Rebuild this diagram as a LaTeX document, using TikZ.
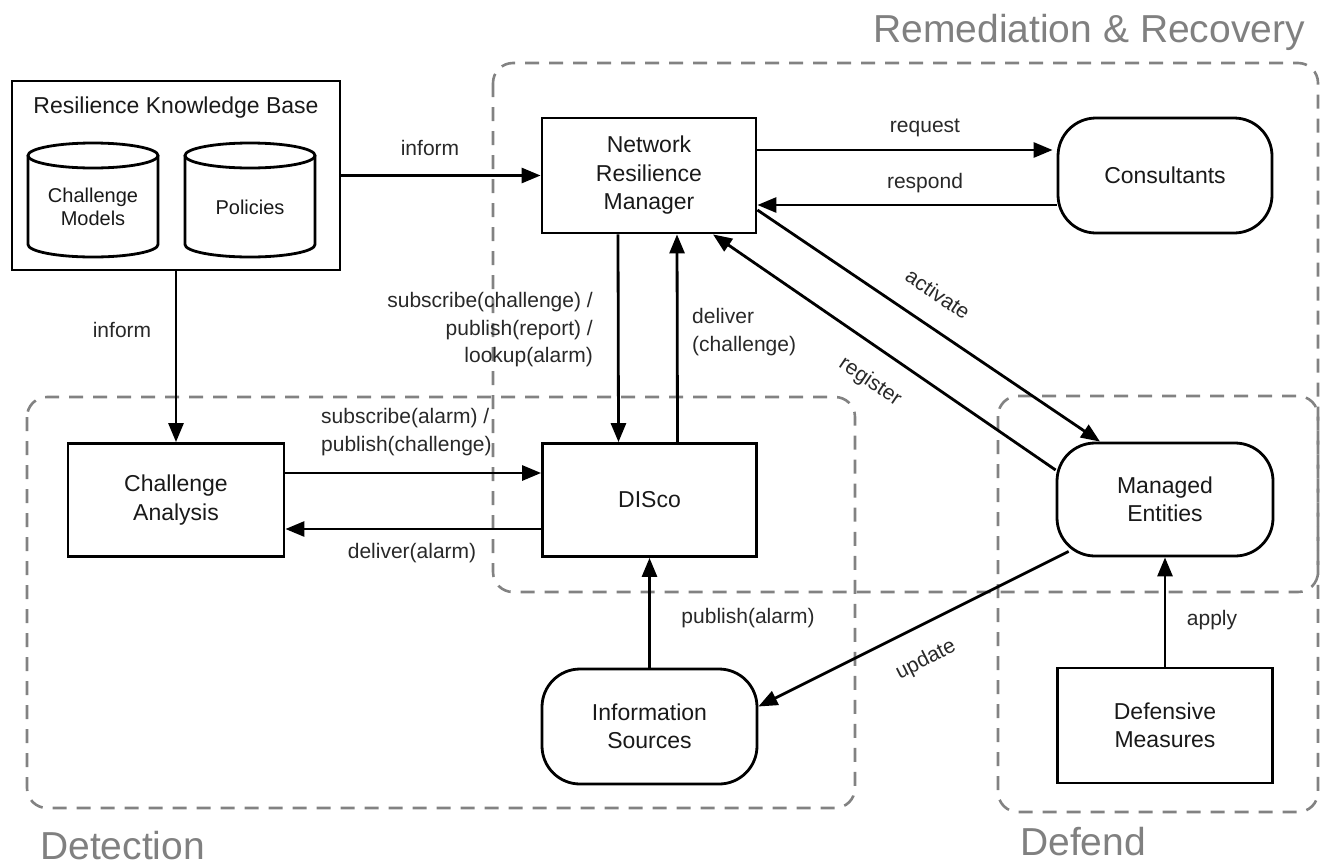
\documentclass[tikz,border=0pt]{standalone}
\usepackage{fontspec}
\setmainfont{Liberation Sans}
\usetikzlibrary{arrows.meta}

\definecolor{inkc}{RGB}{25,25,25}
\definecolor{labelc}{RGB}{40,40,40}
\definecolor{zonec}{RGB}{130,130,130}
\definecolor{zonetextc}{RGB}{128,128,128}

\begin{document}
\begin{tikzpicture}[x=1pt,y=-1pt,
  wire/.style={line width=2.8pt, draw=black},
  arr/.style={wire, -{Triangle[length=19pt,width=15pt]}},
  box/.style={draw=black, line width=2.8pt, rectangle, align=center, inner sep=0pt,
    text=inkc, font=\fontsize{23}{28.5}\selectfont},
  rbox/.style={box, rounded corners=38pt},
  zone/.style={draw=zonec, line width=2.6pt, dash pattern=on 14pt off 10pt, rounded corners=20pt},
  zonelabel/.style={inner sep=0pt, text=zonetextc, font=\fontsize{39}{44}\selectfont},
  lbl/.style={inner sep=0pt, align=center, text=labelc, font=\fontsize{21}{27.5}\selectfont},
  dblabel/.style={inner sep=0pt, align=center, text=inkc, font=\fontsize{20}{22.5}\selectfont}
]
\useasboundingbox (0,0) rectangle (1321,865);

% functional zones
\draw[zone] (493,63) rectangle (1318,592);
\draw[zone] (27,397) rectangle (855,808);
\draw[zone] (998,396) rectangle (1318,812);

\node[zonelabel, anchor=base east] (remlabel) at (1305,42) {Remediation \& Recovery};
\node[zonelabel, anchor=base west] (detlabel) at (40,859) {Detection};
\node[zonelabel, anchor=base west] (deflabel) at (1020,855) {Defend};

% knowledge base with its two stores
\node[box, minimum width=328, minimum height=189] (rkb) at (176,175.5) {};
\node[inner sep=0pt, text=inkc, font=\fontsize{23}{28.5}\selectfont] (rkbtitle) at (176,108) {Resilience Knowledge Base};

\draw[wire] (28,155.5) -- (28,244.5) arc[start angle=180, end angle=360, x radius=65pt, y radius=12.5pt] -- (158,155.5);
\draw[wire] (93,155.5) ellipse[x radius=65pt, y radius=12.5pt];
\node[dblabel] (models) at (93,207) {Challenge\\Models};

\draw[wire] (185,155.5) -- (185,244.5) arc[start angle=180, end angle=360, x radius=65pt, y radius=12.5pt] -- (315,155.5);
\draw[wire] (250,155.5) ellipse[x radius=65pt, y radius=12.5pt];
\node[dblabel] (policies) at (250,207) {Policies};

% components
\node[box, minimum width=214, minimum height=115] (nrm) at (649,175.5) {Network\\Resilience\\Manager};
\node[rbox, minimum width=214, minimum height=115] (cons) at (1165,175.5) {Consultants};
\node[box, minimum width=216, minimum height=113] (ca) at (176,500) {Challenge\\Analysis};
\node[box, minimum width=214, minimum height=113] (disco) at (649.5,500) {DISco};
\node[rbox, minimum width=216, minimum height=113] (me) at (1165,499.5) {Managed\\Entities};
\node[rbox, minimum width=215, minimum height=115] (is) at (649.5,726.5) {Information\\Sources};
\node[box, minimum width=215, minimum height=115] (dm) at (1165,725.5) {Defensive\\Measures};

% interactions
\draw[arr] (rkb.east) -- (nrm.west);
\node[lbl] (l1) at (430,148) {inform};

\draw[arr] (rkb.south) -- (ca.north);
\node[lbl] (l2) at (122,330) {inform};

\draw[arr] ([xshift=-31pt]nrm.south) -- ([xshift=-31pt]disco.north);
\node[lbl, align=right, anchor=east] (l3) at (593,330) {subscribe(challenge) /\\publish(report) /\\lookup(alarm)};

\draw[arr] ([xshift=28pt]disco.north) -- ([xshift=28pt]nrm.south);
\node[lbl, align=left, anchor=west] (l4) at (692,332) {deliver\\(challenge)};

\draw[arr] ([yshift=25.5pt]nrm.east) -- ([yshift=25.5pt,xshift=-4pt]cons.west);
\node[lbl] (l5) at (925,128) {request};

\draw[arr] ([yshift=-29.5pt]cons.west) -- ([yshift=-29.5pt]nrm.east);
\node[lbl] (l6) at (925,183) {respond};

\draw[arr] ([yshift=-34.5pt]nrm.east) -- ([xshift=-65pt]me.north);
\node[lbl, rotate=-34] (l7) at (938,294) {activate};

\draw[arr] ([yshift=29.5pt]me.west) -- ([xshift=64pt]nrm.south);
\node[lbl, rotate=-34] (l8) at (870,382) {register};

\draw[arr] (ca.east |- 0,473) -- (disco.west |- 0,473);
\node[lbl, align=left, anchor=west] (l9) at (321,432) {subscribe(alarm) /\\publish(challenge)};

\draw[arr] (disco.west |- 0,529) -- (ca.east |- 0,529);
\node[lbl] (l10) at (412,553) {deliver(alarm)};

\draw[arr] (is.north) -- (disco.south);
\node[lbl] (l11) at (748,618) {publish(alarm)};

\draw[arr] ([xshift=13pt,yshift=6pt]me.south west) -- ([yshift=20pt]is.east);
\node[lbl, rotate=27] (l12) at (926,660) {update};

\draw[arr] (dm.north) -- (me.south);
\node[lbl] (l13) at (1212,620) {apply};
\end{tikzpicture}
\end{document}
